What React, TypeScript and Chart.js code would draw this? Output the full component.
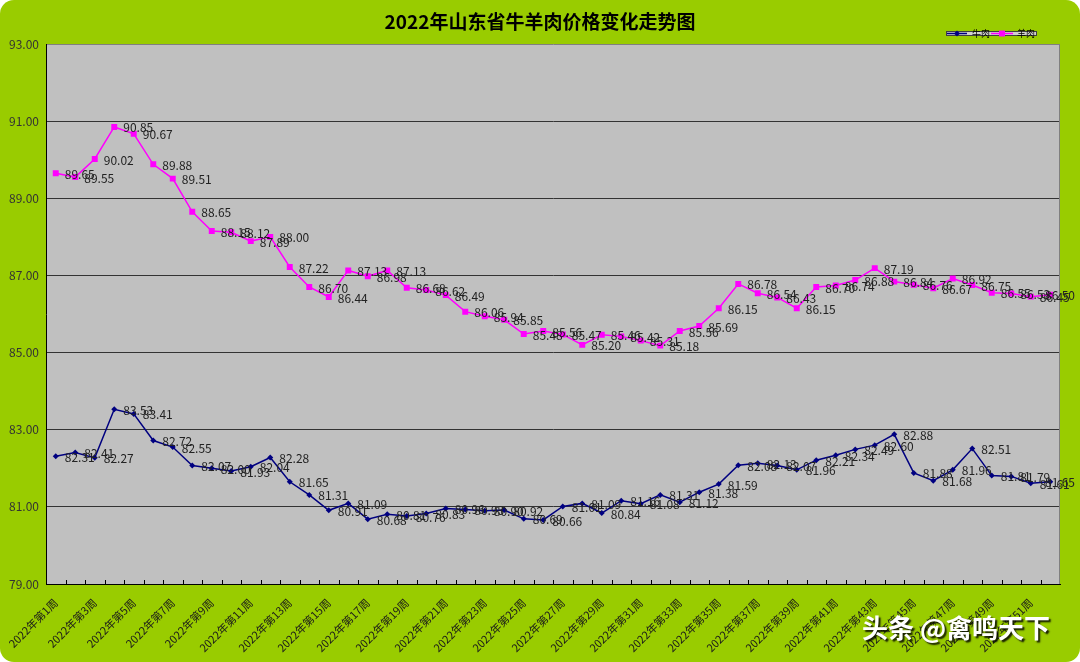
import React, { useEffect, useRef } from 'react';
import { Chart, registerables } from 'chart.js';

Chart.register(...registerables);

const chartTitle = '2022年山东省牛羊肉价格变化走势图';
const seriesNames = ['牛肉', '羊肉'];
const watermark = '头条 @禽鸣天下';

const weeks = [
  '2022年第1周', '2022年第2周', '2022年第3周', '2022年第4周', '2022年第5周', '2022年第6周',
  '2022年第7周', '2022年第8周', '2022年第9周', '2022年第10周', '2022年第11周', '2022年第12周',
  '2022年第13周', '2022年第14周', '2022年第15周', '2022年第16周', '2022年第17周', '2022年第18周',
  '2022年第19周', '2022年第20周', '2022年第21周', '2022年第22周', '2022年第23周', '2022年第24周',
  '2022年第25周', '2022年第26周', '2022年第27周', '2022年第28周', '2022年第29周', '2022年第30周',
  '2022年第31周', '2022年第32周', '2022年第33周', '2022年第34周', '2022年第35周', '2022年第36周',
  '2022年第37周', '2022年第38周', '2022年第39周', '2022年第40周', '2022年第41周', '2022年第42周',
  '2022年第43周', '2022年第44周', '2022年第45周', '2022年第46周', '2022年第47周', '2022年第48周',
  '2022年第49周', '2022年第50周', '2022年第51周', '2022年第52周',
];

const beef = [
  82.31, 82.41, 82.27, 83.53, 83.41, 82.72, 82.55, 82.07, 82.00, 81.93, 82.04, 82.28,
  81.65, 81.31, 80.91, 81.09, 80.68, 80.81, 80.76, 80.83, 80.96, 80.93, 80.90, 80.92,
  80.69, 80.66, 81.01, 81.09, 80.84, 81.16, 81.08, 81.31, 81.12, 81.38, 81.59, 82.08,
  82.13, 82.07, 81.96, 82.21, 82.34, 82.49, 82.60, 82.88, 81.88, 81.68, 81.96, 82.51,
  81.81, 81.79, 81.61, 81.65,
];

const lamb = [
  89.65, 89.55, 90.02, 90.85, 90.67, 89.88, 89.51, 88.65, 88.15, 88.12, 87.89, 88.00,
  87.22, 86.70, 86.44, 87.13, 86.98, 87.13, 86.68, 86.62, 86.49, 86.06, 85.94, 85.85,
  85.48, 85.56, 85.47, 85.20, 85.46, 85.42, 85.31, 85.18, 85.56, 85.69, 86.15, 86.78,
  86.54, 86.43, 86.15, 86.70, 86.74, 86.88, 87.19, 86.84, 86.76, 86.67, 86.92, 86.75,
  86.55, 86.53, 86.45, 86.50,
];

const yMin = 79;
const yMax = 93;
const yStep = 2;

const NAVY = '#000080';
const MAGENTA = '#FF00FF';
const GREEN = '#99CC00';
const PLOT_BG = '#C0C0C0';
const NUM_FONT = '12px "Noto Sans CJK SC", "Liberation Sans", sans-serif';

export default function App() {
  const ref = useRef<HTMLCanvasElement>(null);

  useEffect(() => {
    const canvas = ref.current;
    if (!canvas) return;

    const decor = {
      id: 'decor',
      beforeDraw(chart: any) {
        const { ctx, chartArea: a, width, height } = chart;
        ctx.save();
        ctx.fillStyle = '#ffffff';
        ctx.fillRect(0, 0, width, height);
        ctx.fillStyle = GREEN;
        ctx.beginPath();
        (ctx as any).roundRect(0, 0, width, height, 14);
        ctx.fill();
        ctx.fillStyle = PLOT_BG;
        ctx.fillRect(a.left, a.top, a.right - a.left, a.bottom - a.top);
        ctx.restore();
      },
      beforeDatasetsDraw(chart: any) {
        const { ctx, chartArea: a } = chart;
        const xs = chart.scales.x;
        ctx.save();
        ctx.strokeStyle = '#808080';
        ctx.lineWidth = 1;
        ctx.beginPath();
        ctx.moveTo(Math.round(a.right) - 0.5, a.top);
        ctx.lineTo(Math.round(a.right) - 0.5, a.bottom);
        ctx.stroke();
        ctx.strokeStyle = '#000000';
        ctx.beginPath();
        for (let i = 1; i < weeks.length; i++) {
          const x = Math.round((xs.getPixelForValue(i - 1) + xs.getPixelForValue(i)) / 2) + 0.5;
          ctx.moveTo(x, a.bottom);
          ctx.lineTo(x, a.bottom - 4);
        }
        ctx.stroke();
        ctx.restore();
      },
      afterDatasetsDraw(chart: any) {
        const { ctx, width } = chart;
        ctx.save();
        ctx.font = NUM_FONT;
        ctx.fillStyle = '#222222';
        ctx.textAlign = 'left';
        ctx.textBaseline = 'middle';
        chart.data.datasets.forEach((ds: any, di: number) => {
          const meta = chart.getDatasetMeta(di);
          meta.data.forEach((pt: any, i: number) => {
            const txt = Number(ds.data[i]).toFixed(2);
            const w = ctx.measureText(txt).width;
            const x = Math.min(pt.x + 9, width - 5 - w);
            ctx.fillText(txt, x, pt.y + 1);
          });
        });
        ctx.restore();
      },
      afterDraw(chart: any) {
        const { ctx } = chart;
        ctx.save();
        // title
        ctx.fillStyle = '#000000';
        ctx.font = 'bold 19px "Noto Sans CJK SC", sans-serif';
        ctx.textAlign = 'center';
        ctx.textBaseline = 'middle';
        ctx.fillText(chartTitle, 540, 22);

        // legend
        ctx.fillStyle = '#D0D0D0';
        ctx.fillRect(946, 31, 91, 5);
        ctx.strokeStyle = '#404040';
        ctx.lineWidth = 1;
        ctx.strokeRect(946.5, 31.5, 90, 4);
        const ly = 33.5;
        ctx.strokeStyle = NAVY;
        ctx.lineWidth = 1.5;
        ctx.beginPath();
        ctx.moveTo(947, ly);
        ctx.lineTo(967, ly);
        ctx.stroke();
        ctx.fillStyle = NAVY;
        ctx.beginPath();
        ctx.moveTo(957, ly - 3);
        ctx.lineTo(960, ly);
        ctx.lineTo(957, ly + 3);
        ctx.lineTo(954, ly);
        ctx.closePath();
        ctx.fill();
        ctx.strokeStyle = MAGENTA;
        ctx.beginPath();
        ctx.moveTo(991, ly);
        ctx.lineTo(1013, ly);
        ctx.stroke();
        ctx.fillStyle = MAGENTA;
        ctx.fillRect(999, ly - 3, 6, 6);
        ctx.fillStyle = '#000000';
        ctx.font = '9px "Noto Sans CJK SC", sans-serif';
        ctx.textAlign = 'left';
        ctx.textBaseline = 'middle';
        ctx.fillText(seriesNames[0], 972, ly);
        ctx.fillText(seriesNames[1], 1017, ly);

        // watermark
        ctx.font = 'bold 26px "Noto Sans CJK SC", sans-serif';
        ctx.textAlign = 'left';
        ctx.textBaseline = 'middle';
        ctx.shadowColor = 'rgba(0,0,0,0.85)';
        ctx.shadowOffsetX = 2;
        ctx.shadowOffsetY = 2;
        ctx.shadowBlur = 1.5;
        ctx.fillStyle = '#ffffff';
        ctx.fillText(watermark, 862, 628);
        ctx.restore();
      },
    };

    const chart = new Chart(canvas, {
      type: 'line',
      data: {
        labels: weeks,
        datasets: [
          {
            label: seriesNames[0],
            data: beef,
            borderColor: NAVY,
            backgroundColor: NAVY,
            borderWidth: 1.5,
            pointStyle: 'rectRot',
            pointRadius: 3,
            pointBorderWidth: 0,
            pointBackgroundColor: NAVY,
            tension: 0,
          },
          {
            label: seriesNames[1],
            data: lamb,
            borderColor: MAGENTA,
            backgroundColor: MAGENTA,
            borderWidth: 1.5,
            pointStyle: 'rect',
            pointRadius: 4.2,
            pointBorderWidth: 0,
            pointBackgroundColor: MAGENTA,
            tension: 0,
          },
        ],
      },
      options: {
        responsive: false,
        animation: false,
        devicePixelRatio: 1,
        layout: { padding: { top: 44, right: 20, left: 0, bottom: 0 } },
        plugins: {
          legend: { display: false },
          title: { display: false },
          tooltip: { enabled: false },
        },
        scales: {
          x: {
            type: 'category',
            offset: true,
            grid: { display: true, drawOnChartArea: false, drawTicks: false, offset: true },
            border: { display: true, color: '#000000', width: 1 },
            ticks: {
              autoSkip: false,
              minRotation: 45,
              maxRotation: 45,
              padding: 12,
              color: '#1a1a1a',
              font: { family: '"Noto Sans CJK SC", sans-serif', size: 11 },
              callback: (_v: any, i: number) => (i % 2 === 0 ? weeks[i] : ''),
            },
            afterFit: (s: any) => {
              s.height = 78;
              s.paddingLeft = 0;
              s.paddingRight = 0;
            },
          },
          y: {
            min: yMin,
            max: yMax,
            grid: {
              color: (c: any) => (c.tick && c.tick.value === yMax ? '#808080' : '#333333'),
              lineWidth: 1,
              drawTicks: false,
            },
            border: { display: true, color: '#000000', width: 1 },
            ticks: {
              stepSize: yStep,
              padding: 7,
              color: '#333333',
              font: { family: '"Noto Sans CJK SC", sans-serif', size: 12 },
              callback: (v: any) => Number(v).toFixed(2),
            },
            afterFit: (s: any) => {
              s.width = 46;
              s.paddingTop = 0;
              s.paddingBottom = 0;
            },
          },
        },
      },
      plugins: [decor],
    } as any);

    return () => chart.destroy();
  }, []);

  return (
    <div style={{ position: 'fixed', left: 0, top: 0, width: 1080, height: 662 }}>
      <canvas ref={ref} width={1080} height={662} style={{ display: 'block', width: 1080, height: 662 }} />
    </div>
  );
}
